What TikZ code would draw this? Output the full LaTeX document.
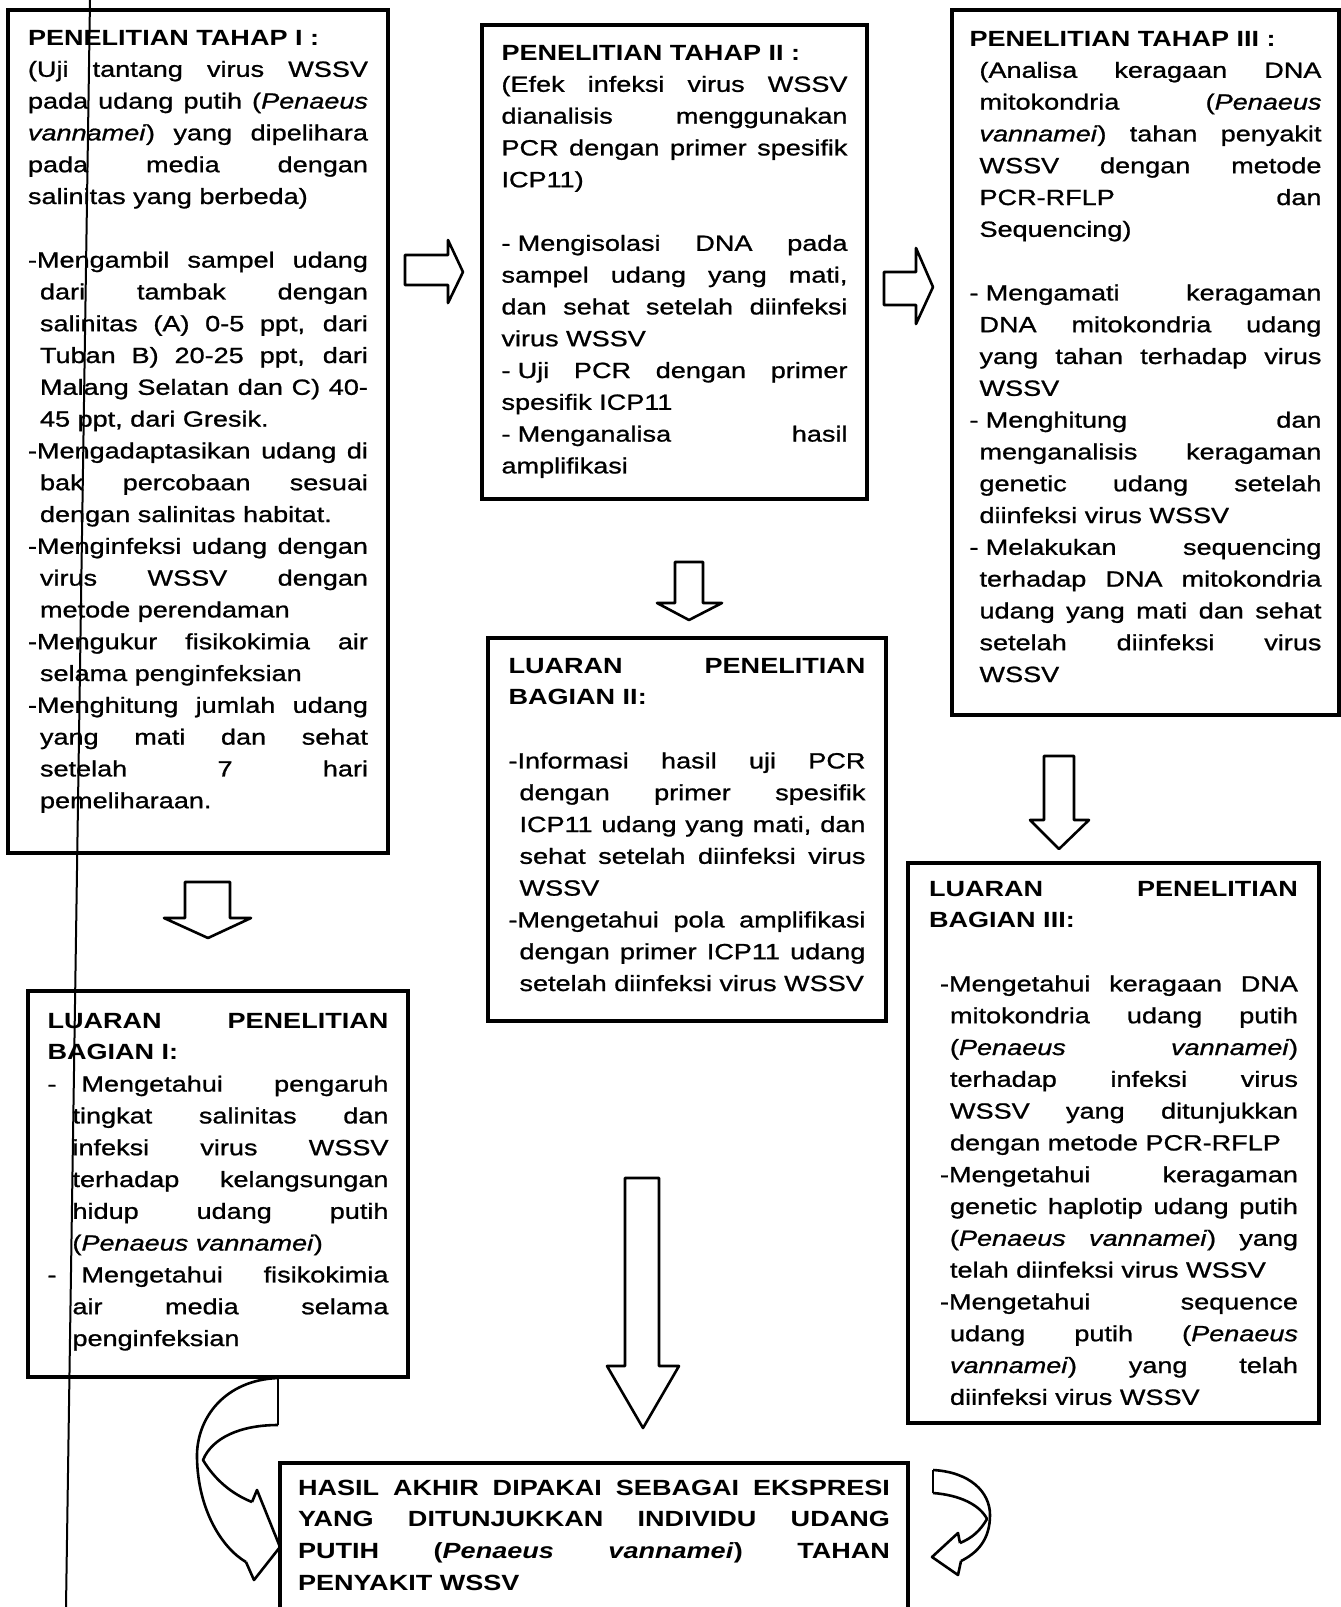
\documentclass[tikz,border=0pt]{standalone}
\usepackage{fontspec}
\setmainfont{Liberation Sans}[FakeStretch=1.23,
  UprightFeatures={FakeBold=1}, ItalicFeatures={FakeBold=1}]
\usepackage{tikz}

\tikzset{
  box/.style={draw, line width=1.6pt, anchor=north west, outer sep=0pt, inner ysep=0pt,
    align=justify, font=\fontsize{11}{15.9}\selectfont,
    execute at begin node={\parindent=0pt\tolerance=10000\hyphenpenalty=10000\exhyphenpenalty=10000}},
  blk/.style={draw, fill=white, line width=1.3pt, line join=round},
  curl/.style={draw, line width=1.3pt, line join=round}
}

\begin{document}
\begin{tikzpicture}[x=0.5pt, y=-0.5pt]
  \fill[white] (0,0) rectangle (1340,1607);
  \useasboundingbox (0,0) rectangle (1340,1607);

  % tahap I
  \node[box, text width=170pt, inner xsep=10pt, text height=17.5pt, text depth=404pt] (tahap1) at (8,10) {%
\textbf{PENELITIAN TAHAP I :}\par
(Uji tantang virus WSSV\linebreak
pada udang putih (\textit{Penaeus}\linebreak
\textit{vannamei}) yang dipelihara\linebreak
pada media dengan\linebreak
salinitas yang berbeda)\par
\mbox{}\par
\hangindent=6pt -Mengambil sampel udang\linebreak
dari tambak dengan\linebreak
salinitas (A) 0-5 ppt, dari\linebreak
Tuban B) 20-25 ppt, dari\linebreak
Malang Selatan dan C) 40-\linebreak
45 ppt, dari Gresik.\par
\hangindent=6pt -Mengadaptasikan udang di\linebreak
bak percobaan sesuai\linebreak
dengan salinitas habitat.\par
\hangindent=6pt -Menginfeksi udang dengan\linebreak
virus WSSV dengan\linebreak
metode perendaman\par
\hangindent=6pt -Mengukur fisikokimia air\linebreak
selama penginfeksian\par
\hangindent=6pt -Menghitung jumlah udang\linebreak
yang mati dan sehat\linebreak
setelah 7 hari\linebreak
pemeliharaan.\par};

  % tahap II
  \node[box, text width=173pt, inner xsep=9.75pt, text height=17.5pt, text depth=219.5pt] (tahap2) at (482,25) {%
\textbf{PENELITIAN TAHAP II :}\par
(Efek infeksi virus WSSV\linebreak
dianalisis menggunakan\linebreak
PCR dengan primer spesifik\linebreak
ICP11)\par
\mbox{}\par
-\hspace{3.6pt}Mengisolasi DNA pada\linebreak
sampel udang yang mati,\linebreak
dan sehat setelah diinfeksi\linebreak
virus WSSV\par
-\hspace{3.6pt}Uji PCR dengan primer\linebreak
spesifik ICP11\par
-\hspace{3.6pt}Menganalisa hasil\linebreak
amplifikasi\par};

  % tahap III
  \node[box, text width=176pt, inner xsep=8.75pt, text height=18pt, text depth=334.5pt] (tahap3) at (952,10) {%
\textbf{PENELITIAN TAHAP III :}\par
{\leftskip=5pt (Analisa keragaan DNA\linebreak
mitokondria (\textit{Penaeus}\linebreak
\textit{vannamei}) tahan penyakit\linebreak
WSSV dengan metode\linebreak
PCR-RFLP dan\linebreak
Sequencing)\par}
\mbox{}\par
\hangindent=5pt -\hspace{3.6pt}Mengamati keragaman\linebreak
DNA mitokondria udang\linebreak
yang tahan terhadap virus\linebreak
WSSV\par
\hangindent=5pt -\hspace{3.6pt}Menghitung dan\linebreak
menganalisis keragaman\linebreak
genetic udang setelah\linebreak
diinfeksi virus WSSV\par
\hangindent=5pt -\hspace{3.6pt}Melakukan sequencing\linebreak
terhadap DNA mitokondria\linebreak
udang yang mati dan sehat\linebreak
setelah diinfeksi virus\linebreak
WSSV\par};

  % luaran I
  \node[box, text width=170.5pt, inner xsep=9.75pt, text height=18.5pt, text depth=174.5pt] (luaran1) at (28,991) {%
\textbf{LUARAN PENELITIAN}\linebreak
\textbf{BAGIAN I:}\par
\hangindent=12.5pt \makebox[17pt][l]{-}Mengetahui pengaruh\linebreak
tingkat salinitas dan\linebreak
infeksi virus WSSV\linebreak
terhadap kelangsungan\linebreak
hidup udang putih\linebreak
(\textit{Penaeus vannamei})\par
\hangindent=12.5pt \makebox[17pt][l]{-}Mengetahui fisikokimia\linebreak
air media selama\linebreak
penginfeksian\par};

  % luaran II
  \node[box, text width=178.5pt, inner xsep=10.25pt, text height=17.5pt, text depth=174pt] (luaran2) at (488,638) {%
\textbf{LUARAN PENELITIAN}\linebreak
\textbf{BAGIAN II:}\par
\mbox{}\par
\hangindent=5.5pt -Informasi hasil uji PCR\linebreak
dengan primer spesifik\linebreak
ICP11 udang yang mati, dan\linebreak
sehat setelah diinfeksi virus\linebreak
WSSV\par
\hangindent=5.5pt -Mengetahui pola amplifikasi\linebreak
dengan primer ICP11 udang\linebreak
setelah diinfeksi virus WSSV\par};

  % luaran III
  \node[box, text width=184.5pt, inner xsep=10.5pt, text height=16.5pt, text depth=263.5pt] (luaran3) at (908,863) {%
\textbf{LUARAN PENELITIAN}\linebreak
\textbf{BAGIAN III:}\par
\mbox{}\par
{\leftskip=5.5pt
\hangindent=5pt -Mengetahui keragaan DNA\linebreak
mitokondria udang putih\linebreak
(\textit{Penaeus} \textit{vannamei})\linebreak
terhadap infeksi virus\linebreak
WSSV yang ditunjukkan\linebreak
dengan metode PCR-RFLP\par
\hangindent=5pt -Mengetahui keragaman\linebreak
genetic haplotip udang putih\linebreak
(\textit{Penaeus vannamei}) yang\linebreak
telah diinfeksi virus WSSV\par
\hangindent=5pt -Mengetahui sequence\linebreak
udang putih (\textit{Penaeus}\linebreak
\textit{vannamei}) yang telah\linebreak
diinfeksi virus WSSV\par}};

  % hasil akhir
  \node[box, text width=296pt, inner xsep=9pt, text height=16pt, text depth=58.5pt] (hasil) at (280,1463) {%
\textbf{HASIL AKHIR DIPAKAI SEBAGAI EKSPRESI\linebreak
YANG DITUNJUKKAN INDIVIDU UDANG\linebreak
PUTIH (\textit{Penaeus} \textit{vannamei}) TAHAN\linebreak
PENYAKIT WSSV}\par};

  % block arrows
  \draw[blk] (405,255) -- (448,255) -- (448,240) -- (463,272) -- (448,303) -- (448,285) -- (405,285) -- cycle;
  \draw[blk] (884,272) -- (916,272) -- (916,248) -- (933,287) -- (916,324) -- (916,305) -- (884,305) -- cycle;
  \draw[blk] (675,562) -- (703,562) -- (703,603) -- (722,603) -- (689,620) -- (657,603) -- (675,603) -- cycle;
  \draw[blk] (1044,756) -- (1074,756) -- (1074,820) -- (1089,820) -- (1059,849) -- (1030,820) -- (1044,820) -- cycle;
  \draw[blk] (185,882) -- (230,882) -- (230,918) -- (251,918) -- (208,938) -- (164,918) -- (185,918) -- cycle;
  \draw[blk] (625,1178) -- (659,1178) -- (659,1366) -- (679,1366) -- (643,1428) -- (607,1366) -- (625,1366) -- cycle;

  % curved arrow left
  \draw[curl] (278,1378) -- (278,1425);
  \draw[curl] (278,1378) .. controls (225,1380) and (196,1418) .. (197,1458)
    .. controls (198,1510) and (222,1548) .. (246,1562);
  \draw[curl] (278,1425) .. controls (240,1425) and (212,1438) .. (203,1460)
    .. controls (215,1480) and (232,1494) .. (252,1502);
  \draw[curl] (252,1502) -- (257,1490) -- (280,1547) -- (254,1580) -- (246,1562);

  % curved arrow right
  \draw[curl] (933,1470) -- (933,1493);
  \draw[curl] (933,1470) .. controls (970,1472) and (990,1492) .. (990,1515)
    .. controls (990,1540) and (977,1553) .. (961,1561);
  \draw[curl] (933,1493) .. controls (960,1495) and (980,1505) .. (987,1519)
    .. controls (980,1531) and (972,1538) .. (960,1543);
  \draw[curl] (960,1543) -- (958,1533) -- (932,1557) -- (958,1575) -- (961,1561);

  % scan line
  \draw[line width=1pt] (90,0) -- (66,1607);
\end{tikzpicture}
\end{document}
